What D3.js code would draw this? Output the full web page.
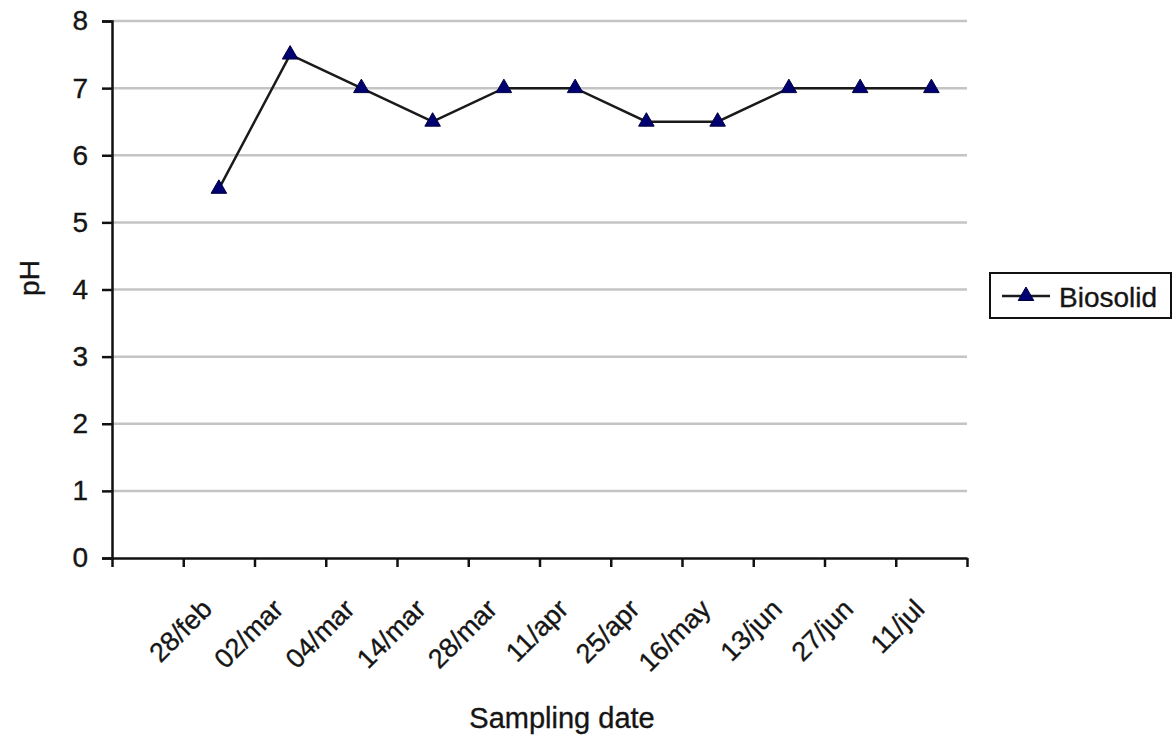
<!DOCTYPE html>
<html>
<head>
<meta charset="utf-8">
<script src="https://d3js.org/d3.v7.min.js"></script>
<style>
  html, body { margin: 0; padding: 0; background: #fff; }
  svg text { font-family: "Liberation Sans", Arial, sans-serif; fill: #151515; stroke: #151515; stroke-width: 0.35px; }
</style>
</head>
<body>
<svg id="chart" width="1173" height="744"></svg>
<script>
// Sampling dates (the first slot on the category axis is left empty)
const categories = ["", "28/feb", "02/mar", "04/mar", "14/mar", "28/mar", "11/apr",
                    "25/apr", "16/may", "13/jun", "27/jun", "11/jul"];
// pH of the biosolid at each sampling date
const phValues = [null, 5.5, 7.5, 7, 6.5, 7, 7, 6.5, 6.5, 7, 7, 7];
const yTicks = [0, 1, 2, 3, 4, 5, 6, 7, 8];
const seriesName = "Biosolid";

const svg = d3.select("#chart");
const plotLeft = 112, plotRight = 967, plotTop = 21, plotBottom = 558;

const x = d3.scaleBand().domain(categories.map((c, i) => i)).range([plotLeft, plotRight]).padding(0);
const xEdge = d3.scaleLinear().domain([0, categories.length]).range([plotLeft, plotRight]);
const y = d3.scaleLinear().domain([0, 8]).range([plotBottom, plotTop]);

// horizontal gridlines
svg.append("g")
  .selectAll("line")
  .data(yTicks.filter(t => t > 0))
  .join("line")
  .attr("x1", plotLeft).attr("x2", plotRight)
  .attr("y1", d => y(d)).attr("y2", d => y(d))
  .attr("stroke", "#c4c4c4").attr("stroke-width", 2.5);

// y axis
const yAxis = svg.append("g")
  .attr("transform", `translate(${plotLeft},0)`)
  .call(d3.axisLeft(y).tickValues(yTicks).tickSize(10).tickPadding(14).tickFormat(d3.format("d")));
yAxis.select(".domain").attr("stroke", "#111").attr("stroke-width", 2.5);
yAxis.selectAll(".tick line").attr("stroke", "#111").attr("stroke-width", 2.5);
yAxis.selectAll(".tick text").attr("font-size", 28).attr("fill", "#151515")
  .attr("font-family", "Liberation Sans, Arial, sans-serif");

// x axis: tick marks on category boundaries
const xAxis = svg.append("g")
  .attr("transform", `translate(0,${plotBottom})`)
  .call(d3.axisBottom(xEdge).tickValues(d3.range(categories.length + 1)).tickSize(9).tickSizeOuter(0).tickFormat(""));
xAxis.select(".domain").attr("stroke", "#111").attr("stroke-width", 2.5);
xAxis.selectAll(".tick line").attr("stroke", "#111").attr("stroke-width", 2.5);

// rotated category labels
svg.append("g")
  .selectAll("text")
  .data(categories.map((c, i) => ({ c, i })).filter(d => d.c !== ""))
  .join("text")
  .attr("transform", d => `translate(${x(d.i) + x.bandwidth() / 2 - 12},${plotBottom + 46}) rotate(-45)`)
  .attr("text-anchor", "end")
  .attr("dy", "0.35em")
  .attr("font-size", 27)
  .text(d => d.c);

// series line
const pts = phValues.map((v, i) => ({ v, i })).filter(d => d.v !== null);
const line = d3.line().x(d => x(d.i) + x.bandwidth() / 2).y(d => y(d.v));
svg.append("path")
  .datum(pts)
  .attr("d", line)
  .attr("fill", "none")
  .attr("stroke", "#1a1a1a")
  .attr("stroke-width", 2.5);

// triangle markers
const tri = d3.symbol().type(d3.symbolTriangle).size(105);
svg.append("g")
  .selectAll("path")
  .data(pts)
  .join("path")
  .attr("d", tri)
  .attr("transform", d => `translate(${x(d.i) + x.bandwidth() / 2},${y(d.v)})`)
  .attr("fill", "#000070")
  .attr("stroke", "#000040")
  .attr("stroke-width", 1);

// axis titles
svg.append("text")
  .attr("transform", "translate(39,278) rotate(-90)")
  .attr("text-anchor", "middle")
  .attr("font-size", 28)
  .text("pH");
svg.append("text")
  .attr("x", 562).attr("y", 728)
  .attr("text-anchor", "middle")
  .attr("font-size", 29)
  .text("Sampling date");

// legend
const lg = svg.append("g");
lg.append("rect")
  .attr("x", 990).attr("y", 273).attr("width", 181).attr("height", 45)
  .attr("fill", "#fff").attr("stroke", "#111").attr("stroke-width", 2);
lg.append("line")
  .attr("x1", 1002).attr("x2", 1050).attr("y1", 296).attr("y2", 296)
  .attr("stroke", "#1a1a1a").attr("stroke-width", 2.5);
lg.append("path")
  .attr("d", tri)
  .attr("transform", "translate(1026,296)")
  .attr("fill", "#000070").attr("stroke", "#000040").attr("stroke-width", 1);
lg.append("text")
  .attr("x", 1059).attr("y", 307)
  .attr("font-size", 28)
  .text(seriesName);
</script>
</body>
</html>
